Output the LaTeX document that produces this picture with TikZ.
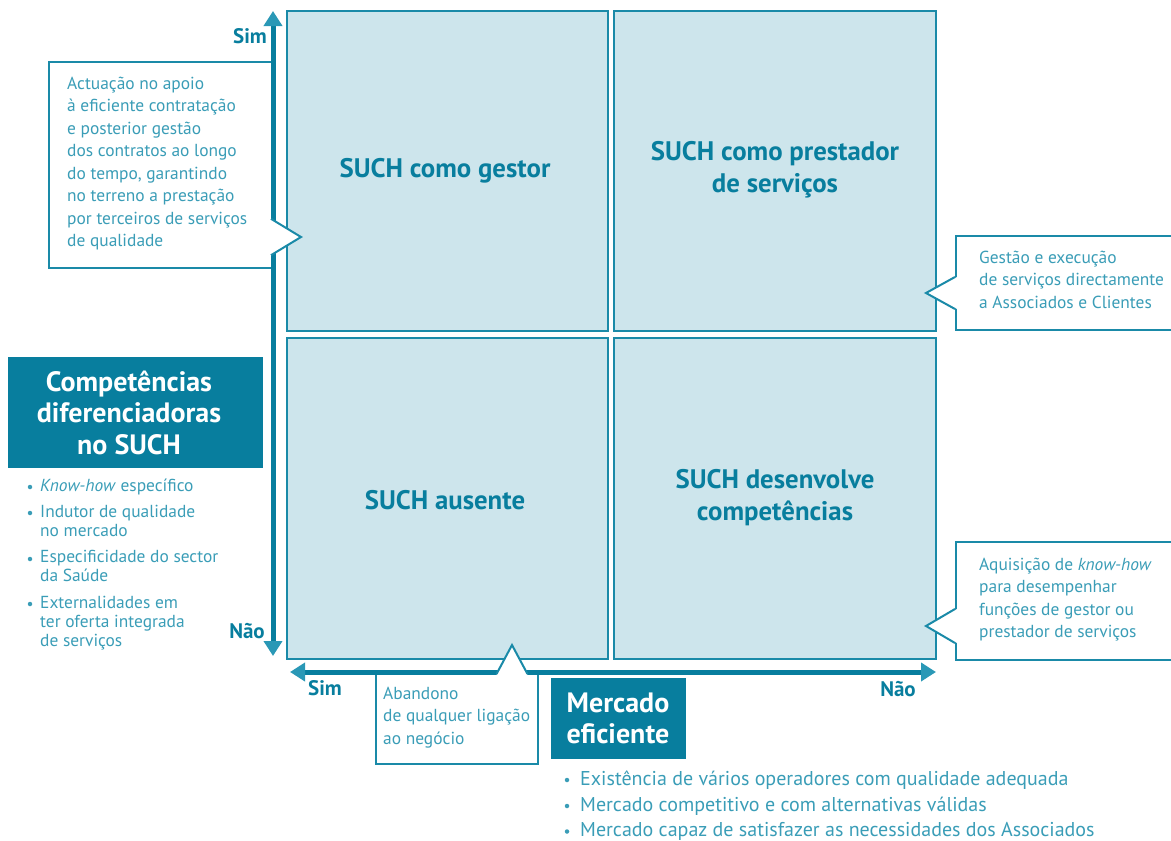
\documentclass[tikz,border=0pt]{standalone}
\usepackage{fontspec}
\setmainfont{PT Sans}
\usetikzlibrary{arrows.meta}
\definecolor{suchdark}{RGB}{8,126,158}
\definecolor{suchline}{RGB}{26,138,168}
\definecolor{suchfill}{RGB}{205,229,236}
\definecolor{suchtext}{RGB}{58,157,183}
\definecolor{suchtip}{RGB}{42,152,182}
\newcommand{\fsz}[2]{\fontsize{#1}{#2}\selectfont}
\begin{document}
\begin{tikzpicture}[x=1pt,y=-1pt,
  quad/.style={draw=suchline, line width=2pt, fill=suchfill, inner sep=0pt,
    font=\fsz{26.8}{32}\bfseries, text=suchdark, align=center},
  quadlabel/.style={inner sep=0pt, font=\fsz{26.8}{32}\bfseries, text=suchdark, align=center},
  calloutbox/.style={draw=suchline, line width=2pt, fill=white, inner sep=0pt, anchor=north west},
  pointer/.style={draw=suchline, line width=2pt, line join=miter},
  notetext/.style={anchor=north west, inner sep=0pt, align=left, text=suchtext, font=\fsz{17.4}{22.5}},
  titlebox/.style={fill=suchdark, inner sep=0pt},
  titletext/.style={text=white, font=\fsz{28}{31.5}\bfseries, align=center, inner sep=0pt},
  axis/.style={line width=5pt, draw=suchdark,
    {Triangle[length=15pt,width=18pt,color=suchtip]}-{Triangle[length=15pt,width=18pt,color=suchtip]}},
  axislabel/.style={text=suchdark, font=\fsz{21}{21}\bfseries, inner sep=0pt},
  dot/.style={circle, fill=suchtext, inner sep=0pt, minimum size=4.5pt},
  itemtext/.style={anchor=north west, inner sep=0pt, align=left, text=suchtext, font=\fsz{17.4}{19}},
  bigitem/.style={anchor=north west, inner sep=0pt, align=left, text=suchtext, font=\fsz{20}{26}},
]
\useasboundingbox (0,0) rectangle (1171,841);

% four quadrants of the matrix
\node[quad, minimum width=321pt, minimum height=320pt] (gestor) at (447.5,171) {};
\node[quad, minimum width=322pt, minimum height=320pt] (prestador) at (775,171) {};
\node[quad, minimum width=321pt, minimum height=321pt] (ausente) at (447.5,498.5) {};
\node[quad, minimum width=322pt, minimum height=321pt] (desenvolve) at (775,498.5) {};
\node[quadlabel] (gestorlbl) at (445,170.5) {SUCH como gestor};
\node[quadlabel] (prestadorlbl) at (775,170) {SUCH como prestador\\de serviços};
\node[quadlabel] (ausentelbl) at (445,500) {SUCH ausente};
\node[quadlabel] (desenvolvelbl) at (775,498) {SUCH desenvolve\\competências};

% callout boxes
\node[calloutbox, minimum width=225pt, minimum height=206pt] (gestornote) at (48,61) {};
\node[calloutbox, minimum width=240pt, minimum height=94pt] (prestnote) at (955,235) {};
\node[calloutbox, minimum width=240pt, minimum height=118pt] (devnote) at (955,541) {};
\node[calloutbox, minimum width=162pt, minimum height=91pt] (ausnote) at (375,672) {};

% axes
\coordinate (ytop) at (273,11);
\coordinate (ybot) at (273,656);
\coordinate (xleft) at (290,672);
\coordinate (xright) at (936,672);
\draw[axis] (ybot) -- (ytop);
\draw[axis] (xleft) -- (xright);

% callout pointers
\fill[white] (270,218.2) -- (301,237) -- (270,255.8) -- cycle;
\draw[pointer] (271,218.8) -- (301,237) -- (271,255.2);
\fill[white] (957,277) -- (926,293) -- (957,309) -- cycle;
\draw[pointer] (955,277) -- (926,293) -- (955,309);
\fill[white] (957,609) -- (926,626) -- (957,643) -- cycle;
\draw[pointer] (955,609) -- (926,626) -- (955,643);
\fill[white] (496,676) -- (512,645) -- (528,676) -- cycle;
\draw[pointer] (496.5,674) -- (512,645) -- (527.5,674);

% callout texts
\node[notetext] (gestortext) at (67,76.5) {Actuação no apoio\\à eficiente contratação\\e posterior gestão\\dos contratos ao longo\\do tempo, garantindo\\no terreno a prestação\\por terceiros de serviços\\de qualidade};
\node[notetext] (presttext) at (979,250.5) {Gestão e execução\\de serviços directamente\\a Associados e Clientes};
\node[notetext] (devtext) at (979,557.5) {Aquisição de \textit{know-how}\\para desempenhar\\funções de gestor ou\\prestador de serviços};
\node[notetext] (austext) at (383,686.5) {Abandono\\de qualquer ligação\\ao negócio};

% axis labels
\node[axislabel] (simy) at (250,36) {Sim};
\node[axislabel] (naoy) at (247,631) {Não};
\node[axislabel] (simx) at (325,688) {Sim};
\node[axislabel] (naox) at (898,689) {Não};

% vertical dimension title and its items
\node[titlebox, minimum width=255pt, minimum height=111pt] (comp) at (135.5,412.5) {};
\node[titletext] (comptext) at (129,412.5) {Competências\\diferenciadoras\\no SUCH};
\node[dot] (d1) at (30,487) {};
\node[itemtext] (i1) at (40,478.5) {\textit{Know-how} específico};
\node[dot] (d2) at (30,513) {};
\node[itemtext] (i2) at (40,504.5) {Indutor de qualidade\\no mercado};
\node[dot] (d3) at (30,559) {};
\node[itemtext] (i3) at (40,549.5) {Especificidade do sector\\da Saúde};
\node[dot] (d4) at (30,604) {};
\node[itemtext] (i4) at (40,595.5) {Externalidades em\\ter oferta integrada\\de serviços};

% horizontal dimension title and its items
\node[titlebox, minimum width=135pt, minimum height=81pt] (merc) at (618.5,718.5) {};
\node[titletext] (merctext) at (618,718.5) {Mercado\\eficiente};
\node[dot] (m1d) at (567,780) {};
\node[bigitem] (m1) at (580,771) {Existência de vários operadores com qualidade adequada};
\node[dot] (m2d) at (567,806) {};
\node[bigitem] (m2) at (580,797) {Mercado competitivo e com alternativas válidas};
\node[dot] (m3d) at (567,831.5) {};
\node[bigitem] (m3) at (580,822.5) {Mercado capaz de satisfazer as necessidades dos Associados};
\end{tikzpicture}
\end{document}
